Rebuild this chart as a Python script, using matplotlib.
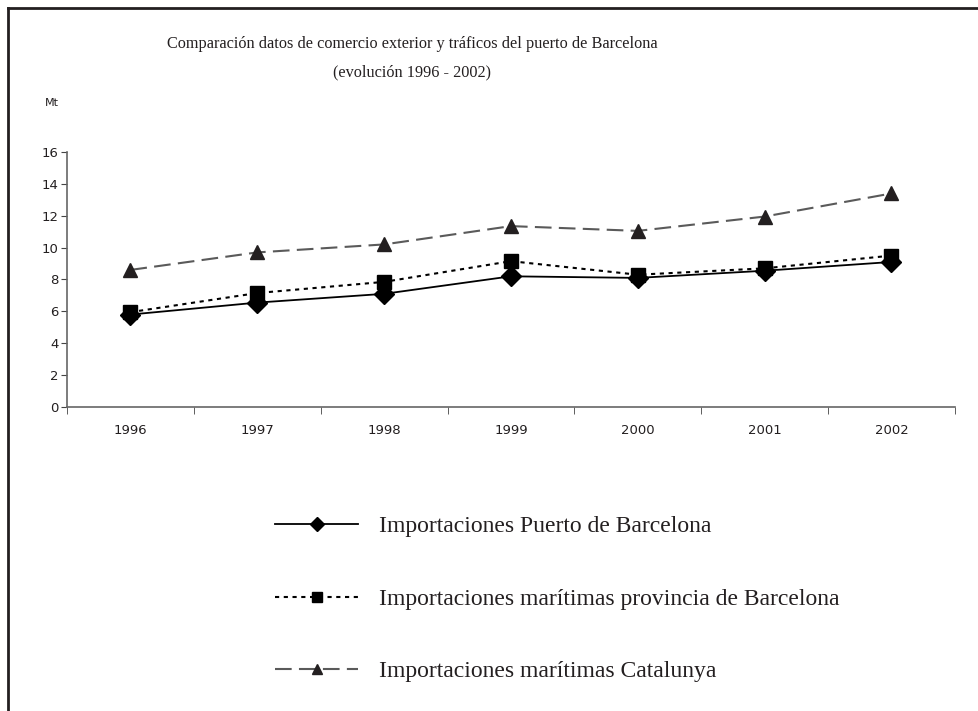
import matplotlib.pyplot as plt
from matplotlib.lines import Line2D

# datos (Mt)
anios = ["1996", "1997", "1998", "1999", "2000", "2001", "2002"]
puerto_bcn = [5.8, 6.55, 7.1, 8.2, 8.1, 8.55, 9.1]
prov_bcn = [5.95, 7.15, 7.85, 9.15, 8.3, 8.7, 9.5]
catalunya = [8.6, 9.7, 10.2, 11.35, 11.05, 11.95, 13.4]

etiquetas = ["Importaciones Puerto de Barcelona",
             "Importaciones marítimas provincia de Barcelona",
             "Importaciones marítimas Catalunya"]

fig = plt.figure(figsize=(9.79, 7.11), dpi=100)

# marco (solo izquierda y arriba visibles)
fig.add_artist(Line2D([0.0085, 0.0085], [0, 0.989], color="#231f20", lw=2, transform=fig.transFigure))
fig.add_artist(Line2D([0.0085, 1.0], [0.989, 0.989], color="#231f20", lw=2, transform=fig.transFigure))

ax = fig.add_axes([0.0684, 0.4276, 0.907, 0.3586])
x = range(len(anios))

ax.plot(x, puerto_bcn, color="black", lw=1.3, marker="D", markersize=10.5, label=etiquetas[0], zorder=3)
ax.plot(x, prov_bcn, color="black", lw=1.5, dashes=(2, 2.2), marker="s", markersize=10, label=etiquetas[1], zorder=2)
ax.plot(x, catalunya, color="#5a5a5a", lw=1.5, dashes=(8, 3.5), marker="^", markersize=9.5,
        markerfacecolor="#231f20", markeredgecolor="#231f20", label=etiquetas[2], zorder=2)

ax.set_xlim(-0.5, len(anios) - 0.5)
ax.set_ylim(0, 16)
ax.set_yticks(range(0, 17, 2))
ax.set_xticks(list(x))
ax.set_xticklabels(anios)
ax.set_xticks([i - 0.5 for i in range(len(anios) + 1)], minor=True)
ax.tick_params(axis="x", which="major", length=0, pad=12, labelsize=9.5, colors="#231f20")
ax.tick_params(axis="x", which="minor", length=5, direction="out", color="#444444")
ax.tick_params(axis="y", length=4, direction="out", pad=2, labelsize=9.5, color="#444444", labelcolor="#231f20")

for lado in ["top", "right"]:
    ax.spines[lado].set_visible(False)
for lado in ["left", "bottom"]:
    ax.spines[lado].set_color("#666666")
    ax.spines[lado].set_linewidth(1.2)

fig.text(0.421, 0.918, "Comparación datos de comercio exterior y tráficos del puerto de Barcelona\n(evolución 1996 - 2002)",
         ha="center", va="center", family="Liberation Serif", fontsize=11.7, color="#231f20", linespacing=2.0)
fig.text(0.046, 0.855, "Mt", ha="left", va="center", fontsize=8, color="#231f20")

leg = fig.legend(loc="upper left", bbox_to_anchor=(0.2596, 0.3044), frameon=False,
                 handlelength=3.5, handletextpad=0.9, labelspacing=2.16, markerscale=0.7,
                 prop={"family": "Liberation Serif", "size": 17})
for t in leg.get_texts():
    t.set_color("#231f20")

plt.savefig("out.png", dpi=100)
